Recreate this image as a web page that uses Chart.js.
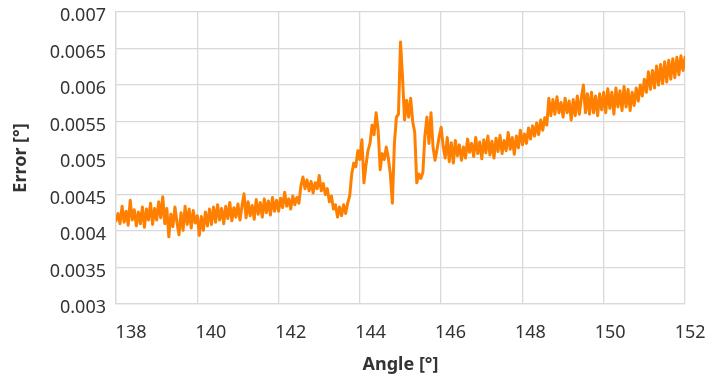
<!DOCTYPE html>
<html lang="en">
<head>
    <meta charset="UTF-8">
    <title>Error vs Angle</title>
    <script src="https://cdn.jsdelivr.net/npm/chart.js"></script>
    <style>
        html, body {
            margin: 0;
            padding: 0;
            background: #ffffff;
        }

        #chart-container {
            width: 707px;
            height: 378px;
        }
    </style>
</head>
<body>

    <div id="chart-container">
        <canvas id="error-chart" width="707" height="378"></canvas>
    </div>

    <script>
        // angles in degrees, one row per degree
        const angles = [
            138.00, 138.05, 138.10, 138.15, 138.20, 138.25, 138.30, 138.35, 138.40, 138.45, 138.50, 138.55, 138.60, 138.65, 138.70, 138.75, 138.80, 138.85, 138.90, 138.95,
            139.00, 139.05, 139.10, 139.15, 139.20, 139.25, 139.30, 139.35, 139.40, 139.45, 139.50, 139.55, 139.60, 139.65, 139.70, 139.75, 139.80, 139.85, 139.90, 139.95,
            140.00, 140.05, 140.10, 140.15, 140.20, 140.25, 140.30, 140.35, 140.40, 140.45, 140.50, 140.55, 140.60, 140.65, 140.70, 140.75, 140.80, 140.85, 140.90, 140.95,
            141.00, 141.05, 141.10, 141.15, 141.20, 141.25, 141.30, 141.35, 141.40, 141.45, 141.50, 141.55, 141.60, 141.65, 141.70, 141.75, 141.80, 141.85, 141.90, 141.95,
            142.00, 142.05, 142.10, 142.15, 142.20, 142.25, 142.30, 142.35, 142.40, 142.45, 142.50, 142.55, 142.60, 142.65, 142.70, 142.75, 142.80, 142.85, 142.90, 142.95,
            143.00, 143.05, 143.10, 143.15, 143.20, 143.25, 143.30, 143.35, 143.40, 143.45, 143.50, 143.55, 143.60, 143.65, 143.70, 143.75, 143.80, 143.85, 143.90, 143.95,
            144.00, 144.05, 144.10, 144.15, 144.20, 144.25, 144.30, 144.35, 144.40, 144.45, 144.50, 144.55, 144.60, 144.65, 144.70, 144.75, 144.80, 144.85, 144.90, 144.95,
            145.00, 145.05, 145.10, 145.15, 145.20, 145.25, 145.30, 145.35, 145.40, 145.45, 145.50, 145.55, 145.60, 145.65, 145.70, 145.75, 145.80, 145.85, 145.90, 145.95,
            146.00, 146.05, 146.10, 146.15, 146.20, 146.25, 146.30, 146.35, 146.40, 146.45, 146.50, 146.55, 146.60, 146.65, 146.70, 146.75, 146.80, 146.85, 146.90, 146.95,
            147.00, 147.05, 147.10, 147.15, 147.20, 147.25, 147.30, 147.35, 147.40, 147.45, 147.50, 147.55, 147.60, 147.65, 147.70, 147.75, 147.80, 147.85, 147.90, 147.95,
            148.00, 148.05, 148.10, 148.15, 148.20, 148.25, 148.30, 148.35, 148.40, 148.45, 148.50, 148.55, 148.60, 148.65, 148.70, 148.75, 148.80, 148.85, 148.90, 148.95,
            149.00, 149.05, 149.10, 149.15, 149.20, 149.25, 149.30, 149.35, 149.40, 149.45, 149.50, 149.55, 149.60, 149.65, 149.70, 149.75, 149.80, 149.85, 149.90, 149.95,
            150.00, 150.05, 150.10, 150.15, 150.20, 150.25, 150.30, 150.35, 150.40, 150.45, 150.50, 150.55, 150.60, 150.65, 150.70, 150.75, 150.80, 150.85, 150.90, 150.95,
            151.00, 151.05, 151.10, 151.15, 151.20, 151.25, 151.30, 151.35, 151.40, 151.45, 151.50, 151.55, 151.60, 151.65, 151.70, 151.75, 151.80, 151.85, 151.90, 151.95,
            152.00
        ];

        // error in degrees, same rows as angles
        const errors = [
            0.00414, 0.00424, 0.00410, 0.00434, 0.00412, 0.00427, 0.00408, 0.00442, 0.00415, 0.00429, 0.00407, 0.00426, 0.00410, 0.00433, 0.00405, 0.00430, 0.00415, 0.00438, 0.00409, 0.00431,
            0.00415, 0.00440, 0.00418, 0.00447, 0.00410, 0.00431, 0.00392, 0.00423, 0.00406, 0.00433, 0.00412, 0.00395, 0.00425, 0.00401, 0.00434, 0.00409, 0.00430, 0.00404, 0.00428, 0.00411,
            0.00421, 0.00394, 0.00420, 0.00401, 0.00426, 0.00407, 0.00430, 0.00409, 0.00433, 0.00412, 0.00436, 0.00415, 0.00431, 0.00410, 0.00434, 0.00417, 0.00439, 0.00414, 0.00432, 0.00419,
            0.00437, 0.00415, 0.00434, 0.00451, 0.00418, 0.00440, 0.00421, 0.00435, 0.00416, 0.00443, 0.00423, 0.00439, 0.00419, 0.00444, 0.00425, 0.00441, 0.00422, 0.00446, 0.00427, 0.00442,
            0.00427, 0.00445, 0.00432, 0.00453, 0.00434, 0.00444, 0.00430, 0.00448, 0.00436, 0.00446, 0.00438, 0.00462, 0.00474, 0.00458, 0.00470, 0.00455, 0.00468, 0.00452, 0.00466, 0.00458,
            0.00476, 0.00455, 0.00465, 0.00450, 0.00458, 0.00440, 0.00448, 0.00430, 0.00436, 0.00419, 0.00433, 0.00421, 0.00436, 0.00424, 0.00438, 0.00448, 0.00478, 0.00493, 0.00488, 0.00510,
            0.00498, 0.00525, 0.00466, 0.00490, 0.00510, 0.00520, 0.00545, 0.00532, 0.00562, 0.00538, 0.00484, 0.00506, 0.00498, 0.00515, 0.00500, 0.00478, 0.00438, 0.00520, 0.00556, 0.00560,
            0.00659, 0.00610, 0.00552, 0.00579, 0.00556, 0.00582, 0.00550, 0.00535, 0.00466, 0.00478, 0.00472, 0.00480, 0.00530, 0.00556, 0.00520, 0.00562, 0.00515, 0.00497, 0.00512, 0.00529,
            0.00542, 0.00516, 0.00500, 0.00528, 0.00495, 0.00521, 0.00493, 0.00524, 0.00503, 0.00518, 0.00497, 0.00515, 0.00500, 0.00526, 0.00508, 0.00520, 0.00502, 0.00528, 0.00506, 0.00522,
            0.00499, 0.00525, 0.00507, 0.00530, 0.00504, 0.00523, 0.00500, 0.00527, 0.00509, 0.00531, 0.00506, 0.00524, 0.00510, 0.00535, 0.00512, 0.00528, 0.00505, 0.00530, 0.00514, 0.00538,
            0.00518, 0.00533, 0.00520, 0.00541, 0.00526, 0.00544, 0.00530, 0.00548, 0.00532, 0.00552, 0.00538, 0.00555, 0.00545, 0.00582, 0.00558, 0.00580, 0.00560, 0.00584, 0.00562, 0.00576,
            0.00556, 0.00582, 0.00562, 0.00578, 0.00552, 0.00580, 0.00558, 0.00585, 0.00560, 0.00582, 0.00600, 0.00562, 0.00588, 0.00560, 0.00590, 0.00562, 0.00585, 0.00558, 0.00588, 0.00566,
            0.00590, 0.00562, 0.00595, 0.00568, 0.00590, 0.00560, 0.00596, 0.00570, 0.00592, 0.00565, 0.00598, 0.00570, 0.00594, 0.00565, 0.00590, 0.00572, 0.00596, 0.00578, 0.00600, 0.00585,
            0.00608, 0.00590, 0.00618, 0.00594, 0.00620, 0.00596, 0.00626, 0.00600, 0.00628, 0.00602, 0.00632, 0.00604, 0.00634, 0.00608, 0.00636, 0.00610, 0.00638, 0.00614, 0.00640, 0.00620,
            0.00638
        ];

        const xTickLabels = ['138', '140', '142', '144', '146', '148', '150', '152'];
        const yTickLabels = ['0.003', '0.0035', '0.004', '0.0045', '0.005', '0.0055', '0.006', '0.0065', '0.007'];

        const points = angles.map((a, i) => ({ x: a, y: errors[i] }));

        const gridColor = '#d9d9d9';
        const textColor = '#333333';
        const fontFamily = '"Noto Sans", "Open Sans", sans-serif';

        // the x labels in the picture sit a little right of the grid lines
        const labelStart = 138.37;
        const labelStep = 1.965;

        // stop the edge labels from pushing the plot area around
        function noEdgePadding(scale) {
            scale.paddingLeft = 0;
            scale.paddingRight = 0;
            scale.paddingTop = 0;
            scale.paddingBottom = 0;
        }

        const ctx = document.getElementById('error-chart').getContext('2d');
        const errorChart = new Chart(ctx, {
            type: 'line',
            data: {
                datasets: [{
                    label: 'Error',
                    data: points,
                    borderColor: '#ff8000',
                    borderWidth: 3,
                    borderJoinStyle: 'round',
                    borderCapStyle: 'round',
                    pointRadius: 0,
                    tension: 0,
                    fill: false
                }]
            },
            options: {
                responsive: false,
                animation: false,
                layout: {
                    padding: { left: 0, right: 22, top: 12, bottom: 0 }
                },
                plugins: {
                    legend: { display: false },
                    tooltip: { enabled: false }
                },
                scales: {
                    x: {
                        type: 'linear',
                        position: 'bottom',
                        min: 138,
                        max: 152,
                        ticks: { display: false, stepSize: 2 },
                        grid: { color: gridColor, lineWidth: 1.3, drawTicks: false },
                        border: { color: gridColor, width: 1.3 },
                        afterFit: function(scale) {
                            noEdgePadding(scale);
                            scale.height = 0;
                        }
                    },
                    x2: {
                        type: 'linear',
                        position: 'bottom',
                        min: 138,
                        max: 152,
                        afterBuildTicks: function(scale) {
                            scale.ticks = xTickLabels.map((t, i) => ({ value: labelStart + labelStep * i }));
                        },
                        ticks: {
                            autoSkip: false,
                            maxRotation: 0,
                            padding: 18,
                            color: textColor,
                            font: { family: fontFamily, size: 18 },
                            callback: function(value, index) {
                                return xTickLabels[index];
                            }
                        },
                        grid: { display: false, drawTicks: false },
                        border: { display: false },
                        title: {
                            display: true,
                            text: 'Angle [°]',
                            color: textColor,
                            font: { family: fontFamily, size: 18, weight: 'bold' },
                            padding: { top: 0, bottom: 2 }
                        },
                        afterFit: function(scale) {
                            noEdgePadding(scale);
                            scale.height = 74;
                        }
                    },
                    y: {
                        min: 0.003,
                        max: 0.007,
                        ticks: {
                            stepSize: 0.0005,
                            padding: 10,
                            labelOffset: 4,
                            color: textColor,
                            font: { family: fontFamily, size: 18 },
                            callback: function(value, index) {
                                return yTickLabels[index];
                            }
                        },
                        grid: { color: gridColor, lineWidth: 1.3, drawTicks: false },
                        border: { color: gridColor, width: 1.3 },
                        title: {
                            display: true,
                            text: 'Error [°]',
                            color: textColor,
                            font: { family: fontFamily, size: 18, weight: 'bold' },
                            padding: { top: 10, bottom: 0 }
                        },
                        afterFit: function(scale) {
                            noEdgePadding(scale);
                            scale.width = 116;
                        }
                    }
                }
            }
        });
    </script>

</body>
</html>
